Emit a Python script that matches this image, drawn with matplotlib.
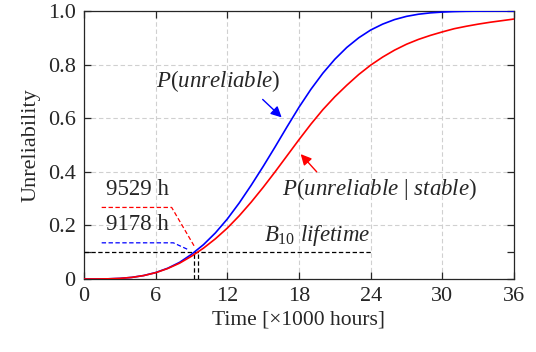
import matplotlib
matplotlib.use("Agg")
import matplotlib.pyplot as plt
from matplotlib.ticker import FixedLocator

plt.rcParams['font.family'] = ['Liberation Serif', 'DejaVu Serif']
plt.rcParams['mathtext.fontset'] = 'custom'
plt.rcParams['mathtext.rm'] = 'Liberation Serif'
plt.rcParams['mathtext.it'] = 'Liberation Serif:italic'
plt.rcParams['mathtext.bf'] = 'Liberation Serif:bold'

# time in thousands of hours
time_k = list(range(0, 37))
p_unreliable = [0.0, 0.0001, 0.0006, 0.0023, 0.006, 0.013, 0.024, 0.040, 0.062, 0.092,
                0.128, 0.172, 0.224, 0.284, 0.350, 0.420, 0.493, 0.568, 0.641, 0.708,
                0.768, 0.820, 0.864, 0.900, 0.929, 0.951, 0.968, 0.980, 0.988, 0.993,
                0.996, 0.998, 0.999, 0.9995, 0.9998, 1.0, 1.0]
p_unreliable_stable = [0.0, 0.0001, 0.0006, 0.0023, 0.0060, 0.0128, 0.0235, 0.039, 0.059, 0.085,
                       0.115, 0.150, 0.190, 0.236, 0.287, 0.342, 0.400, 0.460, 0.520, 0.578,
                       0.632, 0.680, 0.723, 0.763, 0.798, 0.828, 0.854, 0.876, 0.894, 0.909,
                       0.922, 0.934, 0.943, 0.951, 0.958, 0.964, 0.970]

b10_level = 0.1
b10_blue = 9.178
b10_red = 9.529
x_ticks = [0, 6, 12, 18, 24, 30, 36]
y_ticks = [0, 0.2, 0.4, 0.6, 0.8, 1.0]
y_tick_labels = ['0', '0.2', '0.4', '0.6', '0.8', '1.0']

fig = plt.figure(figsize=(5.36, 3.52), dpi=100)
ax = fig.add_axes([84/536, 1-279/352, 430/536, 268/352])

axc = '#262626'
ax.plot(time_k, p_unreliable, color='#0000ff', lw=1.2, zorder=5)
ax.plot(time_k, p_unreliable_stable, color='#ff0000', lw=1.2, zorder=5)

dash = (0, (3.5, 2))
ax.plot([0, 24], [b10_level, b10_level], color='black', lw=0.9, ls=dash, zorder=4)
ax.plot([b10_blue, b10_blue], [0, b10_level], color='black', lw=0.9, ls=dash, zorder=4)
ax.plot([b10_red, b10_red], [0, b10_level], color='black', lw=0.9, ls=dash, zorder=4)

# leader lines for annotations
ax.plot([1.48, 7.34, 9.29], [0.267, 0.267, 0.118], color='#ff0000', lw=0.9, ls=dash, zorder=4)
ax.plot([1.48, 7.48, 8.8], [0.135, 0.135, 0.108], color='#0000ff', lw=0.9, ls=dash, zorder=4)

fs = 16.5
ax.text(1.85, 0.335, '9529 h', fontsize=fs, va='center', ha='left', color=axc)
ax.text(1.85, 0.205, '9178 h', fontsize=fs, va='center', ha='left', color=axc)
ax.text(11.25, 0.74, r'$P$(' + r'$unreliable$' + ')', fontsize=fs, va='center', ha='center',
        color=axc)
ax.text(24.7, 0.335, r'$P$(' + r'$unreliable$' + ' | ' + r'$stable$' + ')', fontsize=fs,
        va='center', ha='center', color=axc)
ax.text(15.1, 0.162, r'$B_{\mathit{10}}$ $lifetime$', fontsize=fs, va='center', ha='left',
        color=axc)

ax.annotate('', xy=(16.55, 0.603), xytext=(14.96, 0.670),
            arrowprops=dict(arrowstyle='-|>', color='#0000ff', lw=1.0, mutation_scale=16,
                            shrinkA=0, shrinkB=0))
ax.annotate('', xy=(18.14, 0.466), xytext=(19.48, 0.40),
            arrowprops=dict(arrowstyle='-|>', color='#ff0000', lw=1.0, mutation_scale=16,
                            shrinkA=0, shrinkB=0))

ax.set_xlim(0, 36)
ax.set_ylim(0, 1)
ax.set_xticks(x_ticks)
ax.set_yticks(y_ticks)
ax.set_yticklabels(y_tick_labels)
ax.yaxis.set_minor_locator(FixedLocator([b10_level]))
ax.grid(True, which='major', color='#d0d0d0', ls=(0, (4, 2.5)), lw=0.8)
ax.set_axisbelow(True)
ax.tick_params(which='both', direction='in', top=True, right=True, length=5, width=0.9,
               labelsize=16, colors=axc, pad=6)
ax.tick_params(which='minor', length=5)
for s in ax.spines.values():
    s.set_color(axc)
    s.set_linewidth(0.9)
ax.set_xlabel('Time [×1000 hours]', fontsize=15.5, color=axc, labelpad=3)
ax.set_ylabel('Unreliability', fontsize=16, color=axc, labelpad=5)

fig.savefig('out.png', dpi=100)
